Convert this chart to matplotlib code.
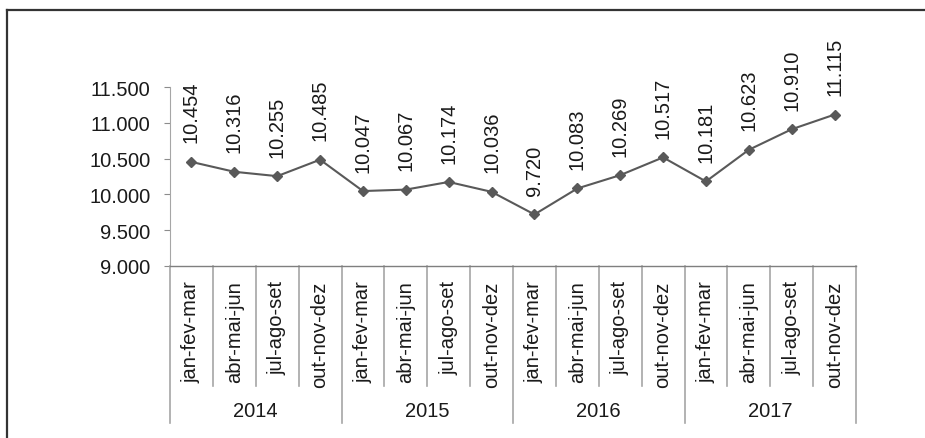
import matplotlib
matplotlib.use("Agg")
import matplotlib.pyplot as plt
from matplotlib.lines import Line2D
from matplotlib.ticker import FuncFormatter
import numpy as np

plt.rcParams["font.family"] = ["Liberation Sans", "DejaVu Sans"]

# data
years = ["2014", "2015", "2016", "2017"]
quarters = ["jan-fev-mar", "abr-mai-jun", "jul-ago-set", "out-nov-dez"]
values = [10454, 10316, 10255, 10485,
          10047, 10067, 10174, 10036,
          9720, 10083, 10269, 10517,
          10181, 10623, 10910, 11115]
yticks = [9000, 9500, 10000, 10500, 11000, 11500]

FS = 14.5


def fmt(v, _=None):
    return f"{int(v):,}".replace(",", ".")


fig = plt.figure(figsize=(9.25, 4.39), dpi=100)
ax = fig.add_axes([0.1838, 0.3918, 0.7416, 0.4077])

x = np.arange(len(values))
ax.plot(x, values, color="#595959", linewidth=1.5, marker="D", markersize=5,
        markerfacecolor="#595959", markeredgecolor="#595959")

for xi, v in zip(x, values):
    ax.annotate(fmt(v), (xi, v), xytext=(0, 14), textcoords="offset points",
                rotation=90, ha="center", va="bottom", fontsize=FS, color="#1a1a1a")

ax.set_xlim(-0.5, len(values) - 0.5)
ax.set_ylim(9000, 11500)
ax.set_yticks(yticks)
ax.yaxis.set_major_formatter(FuncFormatter(fmt))
ax.tick_params(axis="y", length=4, width=0.8, color="#8c8c8c", pad=10,
               labelsize=FS, labelcolor="#1a1a1a")
ax.set_xticks([])

for s in ["top", "right"]:
    ax.spines[s].set_visible(False)
ax.spines["left"].set_color("#a6a6a6")
ax.spines["bottom"].set_color("#7f7f7f")
ax.spines["bottom"].set_linewidth(1.0)

trans = ax.get_xaxis_transform()
nq = len(quarters)
# quarter labels
for i in range(len(values)):
    ax.text(i, -0.08, quarters[i % nq], rotation=90, ha="center", va="top",
            fontsize=FS, color="#1a1a1a", transform=trans)
# year labels
for j, yr in enumerate(years):
    ax.text(j * nq + (nq - 1) / 2, -0.81, yr, ha="center", va="center",
            fontsize=FS, color="#1a1a1a", transform=trans)
# separators
for b in range(len(values) + 1):
    low = -0.877 if b % nq == 0 else -0.67
    ax.add_line(Line2D([b - 0.5, b - 0.5], [0, low], transform=trans,
                       color="#a6a6a6", linewidth=1.2, clip_on=False))

# outer frame (left and top visible)
fig.add_artist(Line2D([7 / 925, 7 / 925], [0, 1 - 11 / 439],
                      transform=fig.transFigure, color="#333333", linewidth=1.6))
fig.add_artist(Line2D([7 / 925, 1], [1 - 11 / 439, 1 - 11 / 439],
                      transform=fig.transFigure, color="#333333", linewidth=1.6))

fig.savefig("out.png", dpi=100)
